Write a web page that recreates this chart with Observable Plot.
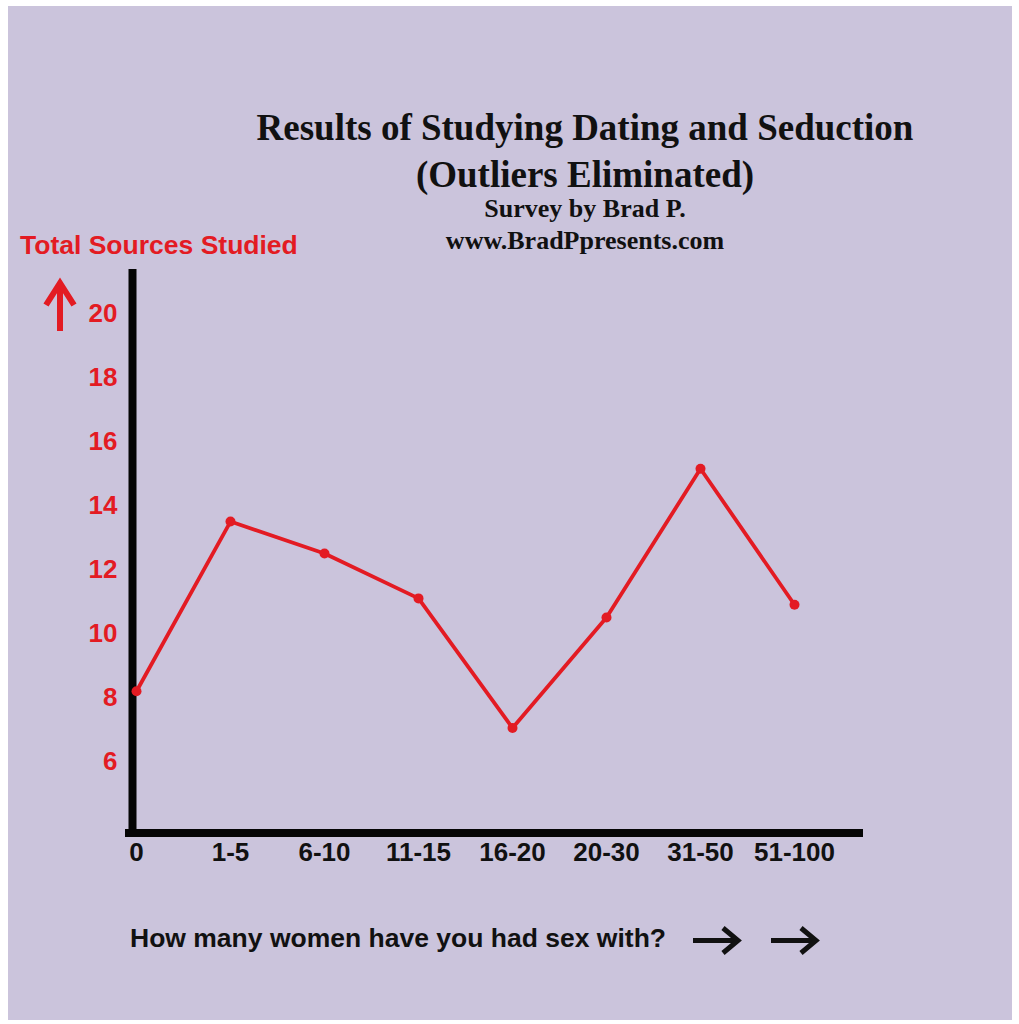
<!DOCTYPE html>
<html>
<head>
<meta charset="utf-8">
<script src="https://cdn.jsdelivr.net/npm/d3@7"></script>
<script src="https://cdn.jsdelivr.net/npm/@observablehq/plot@0.6"></script>
<style>
  html, body { margin: 0; padding: 0; background: #ffffff; }
  #panel { position: absolute; left: 8px; top: 6px; width: 1004px; height: 1014px; background: #cbc4dc; overflow: hidden; }
  #chart { position: absolute; left: 0; top: 0; }
  #overlay { position: absolute; left: 0; top: 0; pointer-events: none; }
</style>
</head>
<body>
<div id="panel">
  <div id="chart"></div>
  <svg id="overlay" width="1004" height="1014">
    <g font-family="'Liberation Serif','Times New Roman',serif" font-weight="bold" fill="#111" text-anchor="middle">
      <text x="577" y="134" font-size="37">Results of Studying Dating and Seduction</text>
      <text x="577" y="181" font-size="37">(Outliers Eliminated)</text>
      <text x="577" y="211" font-size="26">Survey by Brad P.</text>
      <text x="577" y="243" font-size="26">www.BradPpresents.com</text>
    </g>
    <g font-family="'Liberation Sans',Arial,sans-serif" font-weight="bold">
      <text x="12" y="248" font-size="26.5" fill="#e31b23">Total Sources Studied</text>
      <text x="122" y="941" font-size="26.5" fill="#111">How many women have you had sex with?</text>
    </g>
    <g stroke="#e31b23" stroke-width="6" fill="none">
      <path d="M52 276 V325"/>
      <path d="M38 299 L52 277 L66 299" stroke-linejoin="miter"/>
    </g>
    <g stroke="#111" stroke-width="5" fill="none">
      <path d="M685 934.5 H728"/>
      <path d="M715 922 L730 934.5 L715 947"/>
      <path d="M763 934.5 H806"/>
      <path d="M793 922 L808 934.5 L793 947"/>
    </g>
  </svg>
</div>
<script>
const categories = ["0", "1-5", "6-10", "11-15", "16-20", "20-30", "31-50", "51-100"];
const sourcesStudied = [8.2, 13.5, 12.5, 11.1, 7.05, 10.5, 15.15, 10.9];
const yTicks = [6, 8, 10, 12, 14, 16, 18, 20];
const yDomain = [3.77, 21.25];

const red = "#e31b23";
const data = categories.map((c, i) => ({category: c, value: sourcesStudied[i]}));

const chart = Plot.plot({
  width: 1004,
  height: 1014,
  marginLeft: 121,
  marginRight: 153,
  marginTop: 267,
  marginBottom: 187.5,
  style: {background: "transparent", fontFamily: "'Liberation Sans', Arial, sans-serif", fontWeight: "bold", fontSize: "26px", overflow: "visible"},
  x: {type: "point", domain: categories, padding: 0, insetLeft: 4, insetRight: 62},
  y: {domain: yDomain},
  marks: [
    Plot.axisY(yTicks, {anchor: "left", tickSize: 0, tickPadding: 12, fontSize: 26, fontWeight: "bold", fill: red, label: null}),
    Plot.axisX({anchor: "bottom", tickSize: 0, tickPadding: 10, fontSize: 26, fontWeight: "bold", fill: "#111", label: null}),
    Plot.ruleX([categories[0]], {dx: -4, stroke: "#050505", strokeWidth: 8, strokeLinecap: "square"}),
    Plot.ruleY([yDomain[0]], {stroke: "#050505", strokeWidth: 8, strokeLinecap: "square"}),
    Plot.line(data, {x: "category", y: "value", stroke: red, strokeWidth: 3.8}),
    Plot.dot(data, {x: "category", y: "value", r: 5, fill: red})
  ]
});
document.getElementById("chart").appendChild(chart);
</script>
</body>
</html>
